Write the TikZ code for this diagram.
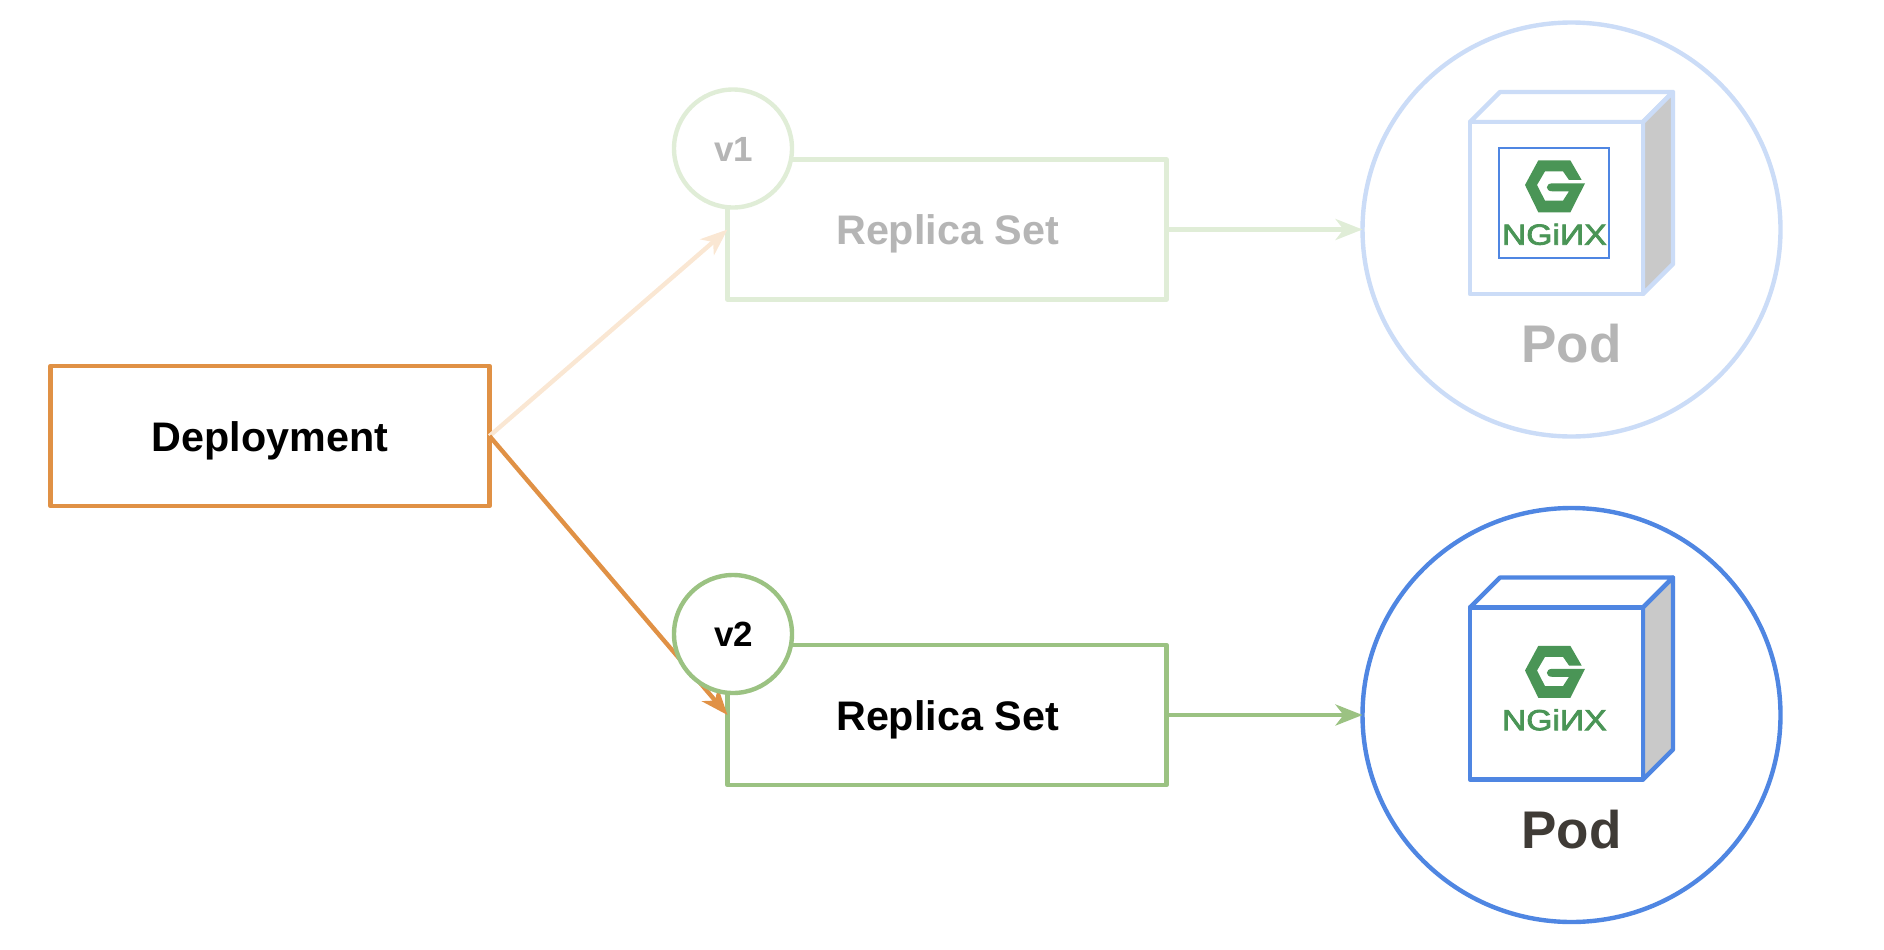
\documentclass[tikz,border=0pt]{standalone}
\usepackage{fontspec}
\usepackage{graphicx}
\setmainfont{Liberation Sans}
\newfontfamily\logofont[FakeBold=2.5]{Liberation Sans}
\usetikzlibrary{arrows.meta,shapes.geometric}
\definecolor{orangeS}{HTML}{E09145}
\definecolor{orangeL}{HTML}{FAE7D3}
\definecolor{greenS}{HTML}{9BC282}
\definecolor{greenL}{HTML}{E0EDD7}
\definecolor{blueS}{HTML}{4F86E2}
\definecolor{blueL}{HTML}{CBDCF7}
\definecolor{sideG}{HTML}{C9C9C9}
\definecolor{textL}{HTML}{B5B5B5}
\definecolor{textD}{HTML}{3F3B36}
\definecolor{logoG}{HTML}{4A9556}
\newcommand{\fs}[1]{\fontsize{#1pt}{#1pt}\selectfont\bfseries}
\tikzset{
  boxnode/.style={draw=#1,fill=white,line width=4.4pt,rectangle,outer sep=0pt,inner sep=0pt,
    minimum width=439pt,minimum height=140pt,line join=round,
    font=\fs{41.3},text height=30pt,text depth=0pt},
  vernode/.style={draw=#1,fill=white,line width=4.4pt,circle,outer sep=0pt,inner sep=0pt,
    minimum size=118pt,font=\fs{35},text height=25pt,text depth=0pt},
  podnode/.style={draw=#1,fill=white,line width=4.4pt,ellipse,outer sep=0pt,inner sep=0pt,
    minimum width=418pt,minimum height=414pt},
  podlabel/.style={anchor=base,font=\fs{53},text=#1,inner sep=0pt},
  link/.style={draw=#1,line width=4.4pt,-{Stealth[length=27pt,width=21pt,inset=8pt,fill=#1]}},
  cube/.style={draw=#1,line width=4.4pt,line join=round,fill=white}
}
% #1 vertical offset, #2 stroke colour, #3 name of logo text
\newcommand{\podcube}[3]{%
  \begin{scope}[yshift=-#1pt]
    \draw[cube=#2] (1470,122) -- (1500,92) -- (1673,92) -- (1643,122) -- cycle;
    \draw[cube=#2,fill=sideG] (1643,122) -- (1673,92) -- (1673,264) -- (1643,294) -- cycle;
    \draw[cube=#2] (1470,122) rectangle (1643,294);
    \begin{scope}[shift={(1495,150)},x=0.3333pt,y=-0.3333pt]
      \fill[logoG] (90,105) -- (130,31) -- (226,31) -- (260,90) -- (222,90) -- (204,64) -- (150,64)
        -- (126,105) -- (150,152) -- (204,152) -- (222,124) -- (172,124)
        .. controls (150,124) and (150,100) .. (172,100) -- (270,100) -- (226,187) -- (130,187) -- cycle;
      \node[text=logoG,inner sep=0pt,font=\logofont\fontsize{29pt}{29pt}\selectfont] (#3) at (178,253)
        {\scalebox{1.16}[1]{NGi\reflectbox{N}X}};
    \end{scope}
  \end{scope}}
\begin{document}
\begin{tikzpicture}[x=1pt,y=-1pt]
\useasboundingbox (0,0) rectangle (1884,950);
% pods
\node[podnode=blueL] (pod1) at (1571.5,229.5) {};
\node[podnode=blueS] (pod2) at (1571.5,715) {};
\podcube{0}{blueL}{logo1}
\draw[blueS,line width=1.7pt] (1499,148) rectangle (1609,258);
\podcube{485.5}{blueS}{logo2}
\node[podlabel=textL] (podt1) at (1571.5,362.5) {Pod};
\node[podlabel=textD] (podt2) at (1571.5,848) {Pod};
% boxes
\node[boxnode=orangeS] (dep) at (270,436) {Deployment};
\node[boxnode=greenL,text=textL] (rs1) at (947,229.5) {\hspace*{1pt}Replica Set};
\node[boxnode=greenS] (rs2) at (947,715) {\hspace*{1pt}Replica Set};
% connectors
\draw[link=orangeL] (dep.east) -- (rs1.west);
\draw[link=orangeS] (dep.east) -- (rs2.west);
\draw[link=greenL] (rs1.east) -- (pod1.west);
\draw[link=greenS] (rs2.east) -- (pod2.west);
% version circles
\node[vernode=greenL,text=textL] (v1) at (733,148.5) {\hspace*{1pt}v1};
\node[vernode=greenS] (v2) at (733,634) {\hspace*{1pt}v2};
\end{tikzpicture}
\end{document}
